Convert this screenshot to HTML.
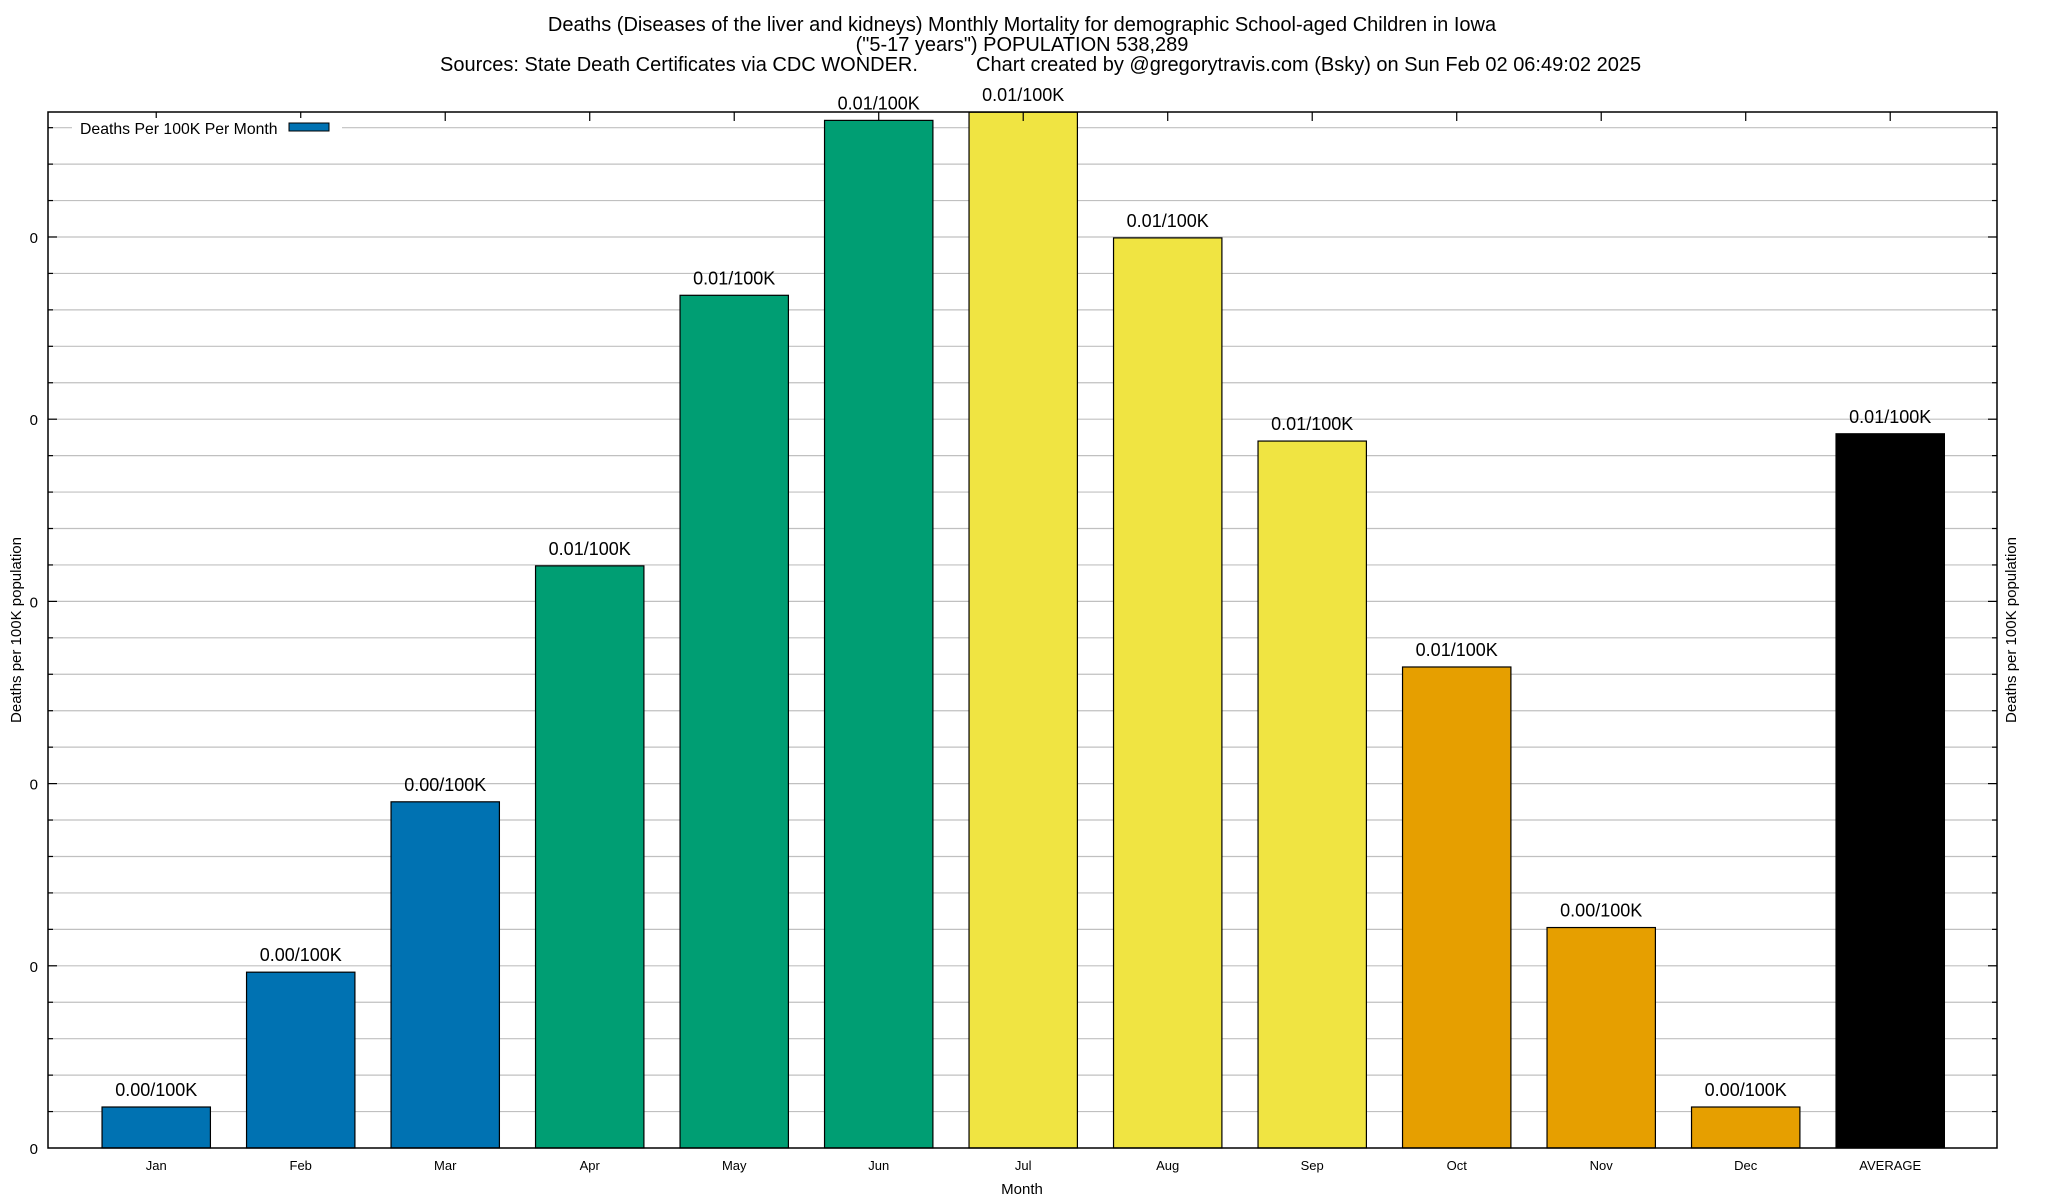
<!DOCTYPE html>
<html><head><meta charset="utf-8">
<style>
html,body{margin:0;padding:0;background:#fff;}
svg{display:block;font-family:"Liberation Sans",Arial,sans-serif;}
</style></head>
<body>
<svg id="chart" width="2048" height="1200" viewBox="0 0 2048 1200">
  <g font-size="20" text-anchor="middle" fill="#000">
    <text x="1022" y="31">Deaths (Diseases of the liver and kidneys) Monthly Mortality for demographic School-aged Children in Iowa</text>
    <text x="1022" y="51">("5-17 years") POPULATION 538,289</text>
    <text x="440" y="71" text-anchor="start">Sources: State Death Certificates via CDC WONDER.</text>
    <text x="976" y="71" text-anchor="start">Chart created by @gregorytravis.com (Bsky) on Sun Feb 02 06:49:02 2025</text>
  </g>
  <g id="grid"></g>
  <g id="bars"></g>
  <g id="axes"></g>
  <g>
    <rect x="72" y="118" width="270" height="20" fill="#fff"/>
    <text x="80" y="134" font-size="15.8">Deaths Per 100K Per Month</text>
    <rect x="289" y="123" width="40" height="8" fill="#0072b2" stroke="#000" stroke-width="1"/>
  </g>
  <text x="1022" y="1194" font-size="15" text-anchor="middle">Month</text>
  <text transform="translate(21,630) rotate(-90)" font-size="15" text-anchor="middle">Deaths per 100K population</text>
  <text transform="translate(2016,630) rotate(-90)" font-size="15" text-anchor="middle">Deaths per 100K population</text>
</svg>
<script>
const categories = ["Jan","Feb","Mar","Apr","May","Jun","Jul","Aug","Sep","Oct","Nov","Dec","AVERAGE"];
const values = [0.00045,0.00193,0.0038,0.00639,0.00936,0.01128,0.01137,0.00999,0.00776,0.00528,0.00242,0.00045,0.00784];
const valueLabels = ["0.00/100K","0.00/100K","0.00/100K","0.01/100K","0.01/100K","0.01/100K","0.01/100K","0.01/100K","0.01/100K","0.01/100K","0.00/100K","0.00/100K","0.01/100K"];
const barColors = ["#0072b2","#0072b2","#0072b2","#009e73","#009e73","#009e73","#f0e442","#f0e442","#f0e442","#e69f00","#e69f00","#e69f00","#000000"];
const yMajorTicks = [0,0.002,0.004,0.006,0.008,0.010];
const yMajorLabels = ["0","0","0","0","0","0"];

const NS = "http://www.w3.org/2000/svg";
const L=48, R=1997, T=112, B=1148;
const xMin=-0.749, xMax=12.739, yMin=0, yMax=0.011372;
const xs = v => L + (v - xMin) / (xMax - xMin) * (R - L);
const ys = v => B - (v - yMin) / (yMax - yMin) * (B - T);
function mk(tag, attrs, parent){ const e=document.createElementNS(NS,tag); for(const k in attrs) e.setAttribute(k,attrs[k]); parent.appendChild(e); return e; }

const grid=document.getElementById('grid'), bars=document.getElementById('bars'), axes=document.getElementById('axes');
for(let v=0; v<=yMax+1e-9; v+=0.0004){
  const y=ys(v);
  if (y<=T+0.5 || y>=B-0.5) continue;
  const g=mk('line',{x1:L,x2:R,y1:y,y2:y,stroke:'#c0c0c0','stroke-width':1.2},grid);
  
  
  const isMajor = Math.abs(v/0.002 - Math.round(v/0.002))<1e-6;
  const tl=isMajor?9:5;
  const t1=mk('line',{x1:L,x2:L+tl,y1:y,y2:y,stroke:'#000','stroke-width':1.2},axes);
  
  
  const t2=mk('line',{x1:R-tl,x2:R,y1:y,y2:y,stroke:'#000','stroke-width':1.2},axes);
  
  
}
yMajorTicks.forEach((v,i)=>{
  const y=ys(v);
  const a=mk('text',{x:L-10,y:y+6,'font-size':15,'text-anchor':'end'},axes); a.textContent=yMajorLabels[i];
  
  
});
const bw=0.75;
categories.forEach((c,i)=>{
  const x0=xs(i-bw/2), x1=xs(i+bw/2), y=ys(values[i]);
  const r=mk('rect',{x:x0,y:y,width:x1-x0,height:B-y,fill:barColors[i],stroke:'#000','stroke-width':1.2},bars);
  
  
  const lb=mk('text',{x:xs(i),y:y-11,'font-size':18,'text-anchor':'middle'},bars); lb.textContent=valueLabels[i];
  
  
  const tk=mk('line',{x1:xs(i),x2:xs(i),y1:T,y2:T+9,stroke:'#000','stroke-width':1.2},axes);
  
  
  const xl=mk('text',{x:xs(i),y:B+22,'font-size':13,'text-anchor':'middle'},axes); xl.textContent=c;
  
  
});
const fr=mk('rect',{x:L,y:T,width:R-L,height:B-T,fill:'none',stroke:'#000','stroke-width':1.5},axes);


</script>
</body></html>
